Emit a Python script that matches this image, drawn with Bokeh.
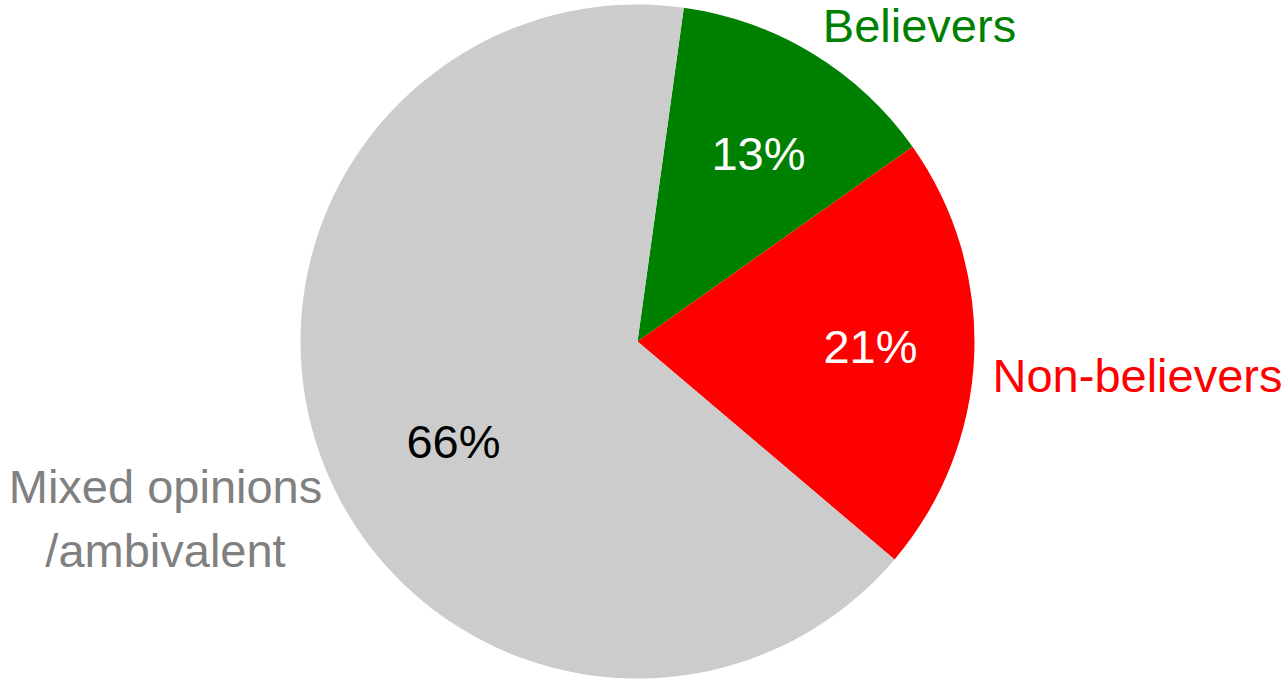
from bokeh.plotting import figure
from bokeh.models import ColumnDataSource
from bokeh.core.properties import value
from bokeh.embed import file_html
from bokeh.resources import INLINE
import math

# ---- data ----
categories = ["Believers", "Non-believers", "Mixed opinions\n/ambivalent"]
shares = [13, 21, 66]
pct_labels = ["13%", "21%", "66%"]
slice_colors = ["#008000", "#ff0000", "#cccccc"]
label_colors = ["#008000", "#ff0000", "#808080"]
pct_colors = ["#ffffff", "#ffffff", "#000000"]

# ---- layout (pixels) ----
W, H = 1284, 680
cx, cy, R = 637, 680 - 341, 337
start_deg = 82.1  # first slice starts here, slices go clockwise
pct_pos = [(758, 680 - 153), (870, 680 - 346), (453, 680 - 441)]
cat_pos = [(919, 680 - 25), (1137, 680 - 375), (165, 680 - 518)]

total = sum(shares)
starts, ends = [], []
a = start_deg
for s in shares:
    sweep = 360.0 * s / total
    ends.append(math.radians(a))
    starts.append(math.radians(a - sweep))
    a -= sweep

src = ColumnDataSource(dict(
    x=[cx] * 3, y=[cy] * 3, start=starts, end=ends, color=slice_colors,
))

p = figure(width=W, height=H, x_range=(0, W), y_range=(0, H),
           output_backend="svg", toolbar_location=None,
           min_border=0, outline_line_color=None)
p.axis.visible = False
p.grid.visible = False
p.background_fill_color = "white"
p.border_fill_color = "white"

p.wedge(x="x", y="y", radius=R, start_angle="start", end_angle="end",
        fill_color="color", line_color=None, source=src)

psrc = ColumnDataSource(dict(
    x=[q[0] for q in pct_pos], y=[q[1] for q in pct_pos],
    text=pct_labels, color=pct_colors))
p.text(x="x", y="y", text="text", text_color="color", source=psrc,
       text_font=value("Liberation Sans"), text_font_size="47px",
       text_align="center", text_baseline="middle")

csrc = ColumnDataSource(dict(
    x=[q[0] for q in cat_pos], y=[q[1] for q in cat_pos],
    text=categories, color=label_colors))
p.text(x="x", y="y", text="text", text_color="color", source=csrc,
       text_font=value("Liberation Sans"), text_font_size="47px",
       text_align="center", text_baseline="middle", text_line_height=1.22)

open("out.html", "w").write(file_html(p, INLINE))
